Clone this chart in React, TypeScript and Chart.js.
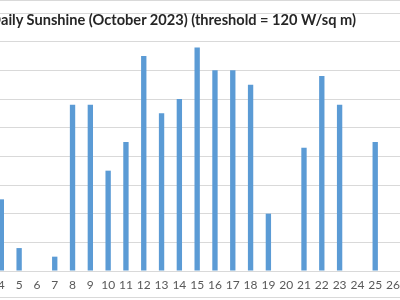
import React, { useEffect, useRef } from "react";
import { Chart, registerables } from "chart.js";

Chart.register(...registerables);

const TITLE = "Daily Sunshine (October 2023) (threshold = 120 W/sq m)";
const DAYS: string[] = Array.from({ length: 31 }, (_, i) => String(i + 1));
// hours of sunshine per day (days not visible in the picture are null)
const SUNSHINE: (number | null)[] = [
  null, null, null, 2.5, 0.8, 0, 0.5, 5.8, 5.8, 3.5,
  4.5, 7.5, 5.5, 6.0, 7.8, 7.0, 7.0, 6.5, 2.0, 0,
  4.3, 6.8, 5.8, 0, 4.5, 0, null, null, null, null, null,
];
const Y_MIN = 0;
const Y_MAX = 9;
const Y_STEP = 1;

export default function App() {
  const ref = useRef<HTMLCanvasElement | null>(null);

  useEffect(() => {
    if (!ref.current) return;
    const chart = new Chart(ref.current, {
      type: "bar",
      data: {
        labels: DAYS,
        datasets: [
          {
            label: "Sunshine",
            data: SUNSHINE,
            backgroundColor: "#5B9BD5",
            borderWidth: 0,
            categoryPercentage: 1,
            barPercentage: 0.3,
          },
        ],
      },
      options: {
        responsive: false,
        animation: false,
        devicePixelRatio: 1,
        layout: { padding: { top: 13, left: 0, right: 0, bottom: 0 } },
        plugins: {
          legend: { display: false },
          title: { display: false },
          tooltip: { enabled: false },
        },
        scales: {
          x: {
            grid: { display: false, drawTicks: false },
            border: { display: true, color: "#D9D9D9" },
            ticks: {
              color: "#595959",
              font: { family: "Lato", size: 12 },
              padding: 7,
              maxRotation: 0,
              autoSkip: false,
            },
            afterFit: (scale: any) => {
              scale.height = 29;
            },
          },
          y: {
            min: Y_MIN,
            max: Y_MAX,
            grid: { color: "#D9D9D9", drawTicks: false },
            border: { display: false },
            ticks: {
              stepSize: Y_STEP,
              color: "#595959",
              font: { family: "Lato", size: 12 },
            },
            afterFit: (scale: any) => {
              scale.width = 30;
            },
          },
        },
      },
    });
    return () => chart.destroy();
  }, []);

  return (
    <div
      style={{
        position: "fixed",
        left: 0,
        top: 0,
        width: 400,
        height: 300,
        overflow: "hidden",
        background: "#fff",
      }}
    >
      <canvas
        ref={ref}
        width={587}
        height={300}
        style={{ position: "absolute", left: -91, top: 0, width: 587, height: 300 }}
      />
      <div
        style={{
          position: "absolute",
          right: 44,
          top: 11,
          whiteSpace: "nowrap",
          font: "bold 14.6px Lato",
          color: "#262626",
        }}
      >
        {TITLE}
      </div>
      <div style={{ position: "absolute", left: 0, top: 0, width: 400, height: 1, background: "#D9D9D9" }} />
      <div style={{ position: "absolute", left: 0, top: 297, width: 400, height: 1, background: "#D9D9D9" }} />
    </div>
  );
}
